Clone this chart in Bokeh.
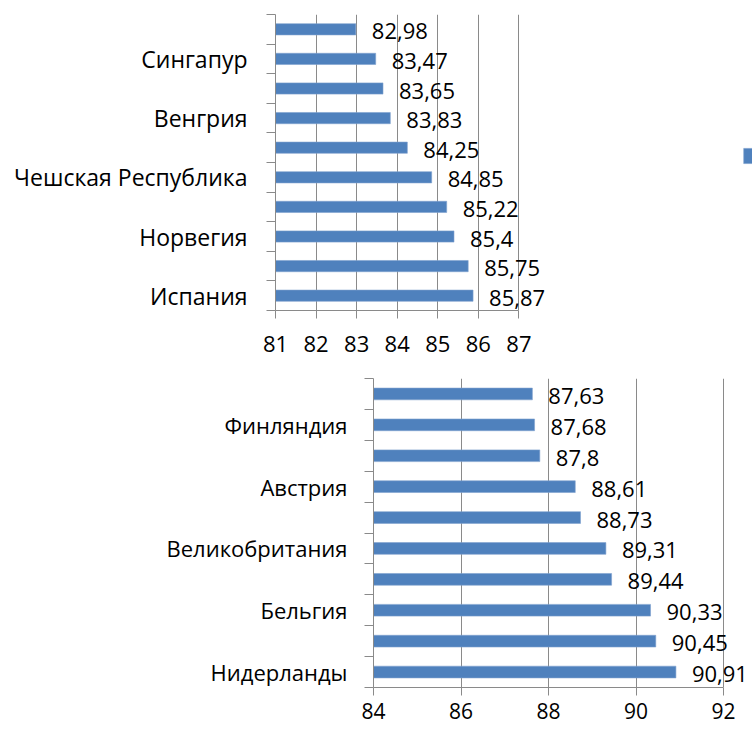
from bokeh.plotting import figure
from bokeh.models import FixedTicker, ColumnDataSource, Legend, LegendItem
from bokeh.core.properties import value
from bokeh.embed import file_html
from bokeh.resources import INLINE

# ---- data (bottom -> top) ----
top_labels = ["Испания", "", "Норвегия", "", "Чешская Республика", "", "Венгрия", "", "Сингапур", ""]
top_values = [85.87, 85.75, 85.4, 85.22, 84.85, 84.25, 83.83, 83.65, 83.47, 82.98]
top_xticks = [81, 82, 83, 84, 85, 86, 87]

bot_labels = ["Нидерланды", "", "Бельгия", "", "Великобритания", "", "Австрия", "", "Финляндия", ""]
bot_values = [90.91, 90.45, 90.33, 89.44, 89.31, 88.73, 88.61, 87.8, 87.68, 87.63]
bot_xticks = [84, 86, 88, 90, 92]

FONT = "Open Sans"
BAR = "#4F81BD"
GRID = "#8A8A8A"


def make_chart(labels, values, xticks, x_end, fw, fh, left, top, right, bottom,
               cat_fs, cat_standoff, tick_fs, val_fs, val_off, tick_standoff):
    n = len(values)
    pos = list(range(1, n + 1))
    src = ColumnDataSource(dict(
        y=pos, v=values,
        txt=[str(v).replace(".", ",") for v in values],
    ))
    p = figure(frame_width=fw, frame_height=fh,
               x_range=(xticks[0], x_end), y_range=(0.5, n + 0.5),
               output_backend="svg", toolbar_location=None,
               min_border_left=left, min_border_top=top,
               min_border_right=right, min_border_bottom=bottom)
    p.outline_line_color = None
    p.background_fill_color = "white"
    p.border_fill_color = "white"

    bars = p.hbar(y="y", right="v", left=xticks[0], height=0.38, source=src,
                  fill_color=BAR, line_color="#7FA1CF", line_width=0.6)
    p.text(x="v", y="y", text="txt", source=src, x_offset=val_off, y_offset=2,
           text_align="left", text_baseline="middle",
           text_font=value(FONT), text_font_size=f"{val_fs}px", text_color="black")

    # x axis
    xa = p.xaxis[0]
    xa.bounds = (xticks[0], xticks[-1])
    xa.ticker = FixedTicker(ticks=xticks, minor_ticks=[])
    xa.axis_line_color = GRID
    xa.major_tick_line_color = GRID
    xa.major_tick_out = 8
    xa.major_tick_in = 0
    xa.minor_tick_line_color = None
    xa.minor_tick_out = 0
    xa.major_label_standoff = tick_standoff
    xa.major_label_text_font = FONT
    xa.major_label_text_font_size = f"{tick_fs}px"
    xa.major_label_text_color = "black"

    # y axis: labels on every other category, ticks at boundaries
    ya = p.yaxis[0]
    lab_pos = [pp for pp, l in zip(pos, labels) if l]
    ya.ticker = FixedTicker(ticks=lab_pos, minor_ticks=[i + 0.5 for i in range(0, n + 1)])
    ya.major_label_overrides = {pp: l for pp, l in zip(pos, labels) if l}
    ya.axis_line_color = GRID
    ya.major_tick_line_color = None
    ya.major_tick_out = 0
    ya.major_tick_in = 0
    ya.minor_tick_line_color = GRID
    ya.minor_tick_out = 9
    ya.minor_tick_in = 0
    ya.major_label_standoff = cat_standoff
    ya.major_label_text_font = FONT
    ya.major_label_text_font_size = f"{cat_fs}px"
    ya.major_label_text_color = "black"

    p.xgrid.ticker = FixedTicker(ticks=xticks)
    p.xgrid.grid_line_color = GRID
    p.ygrid.grid_line_color = None
    return p, bars


# top chart: 243.4 px per 6 units -> frame extended to the right window edge
p1, bars1 = make_chart(top_labels, top_values, top_xticks, 81 + 477 / (243.4 / 6), 477, 296,
                       left=275, top=14, right=0, bottom=54,
                       cat_fs=23, cat_standoff=19, tick_fs=22, val_fs=22, val_off=16,
                       tick_standoff=17)
# legend marker, cut off at the right edge as in the original
leg = Legend(items=[LegendItem(label=" ", renderers=[bars1])], location=(467, 145),
             padding=0, margin=0, spacing=0, border_line_color=None,
             background_fill_alpha=0, glyph_width=12, glyph_height=19,
             label_text_font_size="12px", label_standoff=4)
p1.add_layout(leg)

p2, _ = make_chart(bot_labels, bot_values, bot_xticks, 92.66, 379, 309,
                   left=373, top=14, right=0, bottom=44,
                   cat_fs=22, cat_standoff=17, tick_fs=21, val_fs=22, val_off=16,
                   tick_standoff=7)

open("out.html", "w").write(file_html([p1, p2], INLINE))
